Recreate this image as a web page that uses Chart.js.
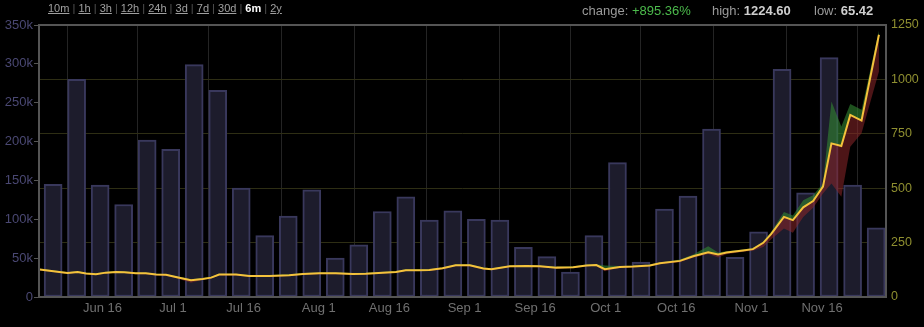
<!DOCTYPE html>
<html><head><meta charset="utf-8">
<script src="https://cdn.jsdelivr.net/npm/chart.js@4.4.1/dist/chart.umd.min.js"></script>
<style>
html,body{margin:0;padding:0;background:#000;width:924px;height:327px;overflow:hidden;font-family:"Liberation Sans",Arial,sans-serif;}
#wrap{position:relative;width:924px;height:327px;}
canvas{position:absolute;left:0;top:0;}
.links{position:absolute;left:48px;top:3px;font-size:11px;line-height:11px;color:#555;white-space:nowrap;}
.links a{color:#a0a0a0;text-decoration:underline;}
.links b{color:#fff;}
.stat{position:absolute;top:4px;font-size:13px;line-height:13px;color:#9a9a9a;white-space:nowrap;}
.stat .v{color:#cfcfcf;font-weight:bold;}
.stat .g{color:#4cbb4c;}
</style></head>
<body>
<div id="wrap">
<canvas id="c" width="924" height="327"></canvas>
<div class="links"><a>10m</a> | <a>1h</a> | <a>3h</a> | <a>12h</a> | <a>24h</a> | <a>3d</a> | <a>7d</a> | <a>30d</a> | <b>6m</b> | <a>2y</a></div>
<div class="stat" style="left:582px">change: <span class="g">+895.36%</span></div>
<div class="stat" style="left:712px">high: <span class="v">1224.60</span></div>
<div class="stat" style="left:814px">low: <span class="v">65.42</span></div>
</div>
<script>
// days counted from Jun 1 (day 0)
const volDays = [4.5,9.5,14.5,19.5,24.5,29.5,34.5,39.5,44.5,49.5,54.5,59.5,64.5,69.5,74.5,79.5,84.5,89.5,94.5,99.5,104.5,109.5,114.5,119.5,124.5,129.5,134.5,139.5,144.5,149.5,154.5,159.5,164.5,169.5,174.5,179.5];
const volumeK = [145,280,144,119,202,190,299,266,140,79,104,138,50,67,110,129,99,111,100,99,64,52,32,79,173,45,113,130,216,51,84,293,134,308,144,89];

const priceDays = [1.7,5.8,7.6,9.7,11.5,13.6,15.7,17.9,19.6,22.1,24.2,26.4,28.5,30.6,33.8,36.3,38.1,39.8,43.4,46.2,50.5,54.7,57.6,61.1,64.6,68.2,71,74.6,77.4,79.5,82.3,84.5,87.3,90.1,93.1,96,97.7,101.6,105.2,108,111.5,115.1,117.9,120,121.8,125,127.8,131.4,133.5,137.8,140.6,143.8,145.9,147.7,151.2,153.3,155.5,157.2,159.9,161.8,164,166.1,168.2,170,172.1,174,176.4,180.1];
const priceClose = [126,115,110,115,108,105,112,115,114,109,109,103,102,92,77,83,89,103,103,97,97,100,106,109,109,106,107,112,115,123,123,124,132,146,146,131,128,141,143,141,135,137,145,147,128,138,140,145,155,166,187,206,195,204,214,220,249,290,368,353,412,441,507,706,694,837,811,1205];
const priceHigh = [130,119,114,119,112,109,116,119,118,113,113,107,106,97,82,87,93,107,107,101,101,104,110,113,113,110,111,116,119,127,127,128,136,150,150,136,132,145,147,145,139,141,149,151,145,142,144,149,159,172,195,233,205,210,218,225,255,300,391,375,445,468,522,898,783,887,860,1224];
const priceLow = [122,111,106,111,104,101,108,111,110,105,105,99,98,87,66,79,85,99,99,93,93,96,102,105,105,102,103,108,111,119,119,120,128,141,141,126,124,137,139,137,131,133,141,143,118,134,136,141,150,160,180,198,182,196,208,212,230,265,315,295,368,410,476,522,461,691,753,1036];

const volTicks = [0,50,100,150,200,250,300,350];
const volTickLabels = ['0','50k','100k','150k','200k','250k','300k','350k'];
const priceTicks = [0,250,500,750,1000,1250];
const priceTickLabels = ['0','250','500','750','1000','1250'];
const dateTickDays = [15,30,45,61,76,92,107,122,137,153,168];
const dateTickLabels = ['Jun 16','Jul 1','Jul 16','Aug 1','Aug 16','Sep 1','Sep 16','Oct 1','Oct 16','Nov 1','Nov 16'];

const pts = (xs, ys) => xs.map((x, i) => ({x: x, y: ys[i]}));

const framePlugin = {
  id: 'frame',
  afterDatasetsDraw(chart) {
    const {ctx, chartArea: a} = chart;
    ctx.save();
    ctx.strokeStyle = '#555555';
    ctx.lineWidth = 2;
    ctx.strokeRect(a.left, a.top, a.right - a.left, a.bottom - a.top);
    ctx.restore();
  }
};

const FONT = '"Liberation Sans", Arial, sans-serif';

new Chart(document.getElementById('c'), {
  type: 'bar',
  data: {
    datasets: [
      {type: 'line', label: 'close', data: pts(priceDays, priceClose), xAxisID: 'x', yAxisID: 'yP',
       borderColor: '#f4c23c', borderWidth: 2, pointRadius: 0, tension: 0, fill: false, order: 1},
      {type: 'line', label: 'high', data: pts(priceDays, priceHigh), xAxisID: 'x', yAxisID: 'yP',
       borderColor: 'rgba(0,0,0,0)', borderWidth: 0, pointRadius: 0, tension: 0,
       fill: {target: 0}, backgroundColor: 'rgba(50,135,50,0.6)', order: 2},
      {type: 'line', label: 'low', data: pts(priceDays, priceLow), xAxisID: 'x', yAxisID: 'yP',
       borderColor: 'rgba(0,0,0,0)', borderWidth: 0, pointRadius: 0, tension: 0,
       fill: {target: 0}, backgroundColor: 'rgba(140,38,42,0.55)', order: 3},
      {type: 'bar', label: 'volume', data: pts(volDays, volumeK), xAxisID: 'x', yAxisID: 'yV',
       backgroundColor: '#1d1c2c', borderColor: '#39385c', borderWidth: 2, borderSkipped: false,
       barThickness: 18, order: 10}
    ]
  },
  options: {
    responsive: false,
    animation: false,
    devicePixelRatio: 1,
    layout: {padding: {top: 25, left: 0, right: 0, bottom: 0}},
    plugins: {legend: {display: false}, tooltip: {enabled: false}},
    scales: {
      x: {
        type: 'linear', position: 'bottom', min: 1.5, max: 181.6, offset: false,
        afterBuildTicks: s => { s.ticks = dateTickDays.map(v => ({value: v})); },
        afterFit: s => { s.height = 30; },
        ticks: {autoSkip: false, maxRotation: 0, color: '#707070', font: {size: 13, family: FONT}, padding: 4,
                callback: (v, i) => dateTickLabels[i]},
        grid: {color: '#242424', drawTicks: false, lineWidth: 1},
        border: {display: false}
      },
      yV: {
        type: 'linear', position: 'left', min: 0, max: 350,
        afterBuildTicks: s => { s.ticks = volTicks.map(v => ({value: v})); },
        afterFit: s => { s.width = 39; },
        ticks: {color: '#4a4873', font: {size: 13, family: FONT}, padding: 1,
                callback: (v, i) => volTickLabels[i]},
        grid: {drawOnChartArea: false, drawTicks: true, tickLength: 5, tickColor: '#555555'},
        border: {display: false}
      },
      yP: {
        type: 'linear', position: 'right', min: 0, max: 1250,
        afterBuildTicks: s => { s.ticks = priceTicks.map(v => ({value: v})); },
        afterFit: s => { s.width = 38; },
        ticks: {color: '#8f8f30', font: {size: 12.5, family: FONT}, padding: 5,
                callback: (v, i) => priceTickLabels[i]},
        grid: {color: '#2e2e14', drawTicks: false, lineWidth: 1},
        border: {display: false}
      }
    }
  },
  plugins: [framePlugin]
});
</script>
</body></html>
